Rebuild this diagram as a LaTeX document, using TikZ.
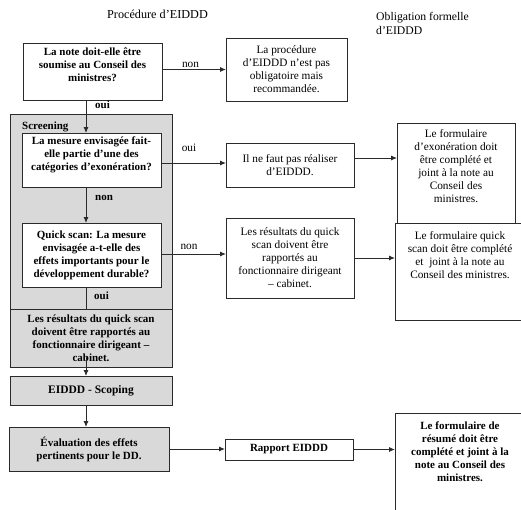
\documentclass[tikz,border=0pt]{standalone}
\usepackage{fontspec}
\setmainfont{Liberation Serif}
\usetikzlibrary{arrows.meta,calc}
\definecolor{linec}{HTML}{2A2A2A}
\definecolor{fillg}{HTML}{D9D9D9}
\newcommand{\tbox}[4]{\parbox[c][#1pt][t]{#2pt}{\centering\vspace*{#3pt}#4}}
\tikzset{
  plainbox/.style={draw=linec, line width=0.9pt, fill=white, inner sep=0pt, outer sep=0pt, align=center, font=\fontsize{11.3}{13}\selectfont},
  boldbox/.style={plainbox, font=\fontsize{11}{13}\selectfont\bfseries},
  graybox/.style={boldbox, fill=fillg},
  arr/.style={draw=linec, line width=0.9pt, -{Latex[length=6pt,width=5pt]}},
  conn/.style={draw=linec, line width=0.9pt},
  lbl/.style={inner sep=0pt, anchor=base, font=\fontsize{11.3}{13}\selectfont},
  blbl/.style={lbl, font=\fontsize{11}{13}\selectfont\bfseries},
}
\begin{document}
\begin{tikzpicture}[x=1pt,y=-1pt]
\useasboundingbox (0,0) rectangle (521,509);
\clip (0,0) rectangle (521,509);

% titles
\node[lbl, font=\fontsize{12.2}{14}\selectfont] (t1) at (157.5,18.5) {Procédure d’EIDDD};
\node[inner sep=0pt, anchor=north west, align=left, font=\fontsize{11.7}{13.5}\selectfont] (t2) at (376,12.5) {Obligation formelle\\d’EIDDD};

% boxes
\node[boldbox, minimum width=139, minimum height=57] (b1) at (92.5,71.5)
  {\tbox{57}{139}{5}{La note doit-elle être\\soumise au Conseil des\\ministres?}};
\node[plainbox, minimum width=121, minimum height=63] (b2) at (286.5,69.5)
  {La procédure\\d’EIDDD n’est pas\\obligatoire mais\\recommandée.};

\node[draw=linec, line width=0.9pt, fill=fillg, inner sep=0pt, minimum width=162, minimum height=195] (scr) at (91,211.5) {};
\node[blbl, anchor=base west] (scrl) at (22,129) {Screening};

\node[boldbox, minimum width=139, minimum height=54] (b3) at (91.5,160)
  {\tbox{54}{139}{3.5}{La mesure envisagée fait-\\elle partie d’une des\\catégories d’exonération?}};
\node[boldbox, minimum width=139, minimum height=64] (b4) at (91.5,255)
  {Quick scan: La mesure\\envisagée a-t-elle des\\effets importants pour le\\développement durable?};

\node[plainbox, minimum width=128, minimum height=44] (b5) at (290,165)
  {Il ne faut pas réaliser\\d’EIDDD.};
\node[plainbox, minimum width=118, minimum height=100] (b6) at (456,173)
  {\tbox{100}{118}{6.5}{Le formulaire\\d’exonération doit\\être complété et\\joint à la note au\\Conseil des\\ministres.}};
\node[plainbox, minimum width=128, minimum height=80] (b7) at (290,258)
  {Les résultats du quick\\scan doivent être\\rapportés au\\fonctionnaire dirigeant\\– cabinet.};
\node[plainbox, minimum width=130, minimum height=97] (b8) at (460,271.5)
  {\tbox{97}{130}{8.5}{Le formulaire quick\\scan doit être complété\\et\ \ joint à la note au\\Conseil des ministres.}};

\node[graybox, minimum width=162, minimum height=58] (b9) at (91,338)
  {Les résultats du quick scan\\doivent être rapportés au\\fonctionnaire dirigeant –\\cabinet.};
\node[graybox, minimum width=162, minimum height=29, font=\fontsize{11.5}{13}\selectfont\bfseries] (b10) at (91,390.5)
  {EIDDD - Scoping};
\node[graybox, minimum width=160, minimum height=44] (b11) at (89,449)
  {Évaluation des effets\\pertinents pour le DD.};
\node[boldbox, minimum width=128, minimum height=21] (b12) at (289,449.5)
  {Rapport EIDDD};
\node[boldbox, minimum width=130, minimum height=107] (b13) at (460,466.5)
  {\tbox{107}{130}{9}{Le formulaire de\\résumé doit être\\complété et joint à la\\note au Conseil des\\ministres.}};

% helper coordinates
\coordinate (vx) at (86,0);
\coordinate (c9) at (86,357);
\coordinate (ya) at (0,163);
\coordinate (yb) at (0,158);
\coordinate (yc) at (0,254);
\coordinate (yd) at (0,258);

% connectors
\draw[arr] (b1.east |- b2.west) -- (b2.west);
\draw[arr] (b1.south -| vx) -- (b3.north -| vx);
\draw[arr] (b3.south -| vx) -- (b4.north -| vx);
\draw[conn] (b4.south -| vx) -- (b9.north -| vx);
\draw[arr] (c9) -- (b10.north -| vx);
\draw[arr] (b10.south -| vx) -- (b11.north -| vx);
\draw[arr] (b3.east |- ya) -- (b5.west |- ya);
\draw[arr] (b5.east |- yb) -- (b6.west |- yb);
\draw[arr] (b4.east |- yc) -- (b7.west |- yc);
\draw[arr] (b7.east |- yd) -- (b8.west |- yd);
\draw[arr] (b11.east) -- (b11.east -| b12.west);
\draw[arr] (b12.east) -- (b12.east -| b13.west);

% labels
\node[lbl] (n1) at (190.5,67.5) {non};
\node[blbl] (o1) at (102.5,108.5) {oui};
\node[lbl] (o2) at (189,151) {oui};
\node[blbl] (n2) at (104,200) {non};
\node[lbl] (n3) at (189,249) {non};
\node[blbl] (o3) at (101.5,299.5) {oui};
\end{tikzpicture}
\end{document}
